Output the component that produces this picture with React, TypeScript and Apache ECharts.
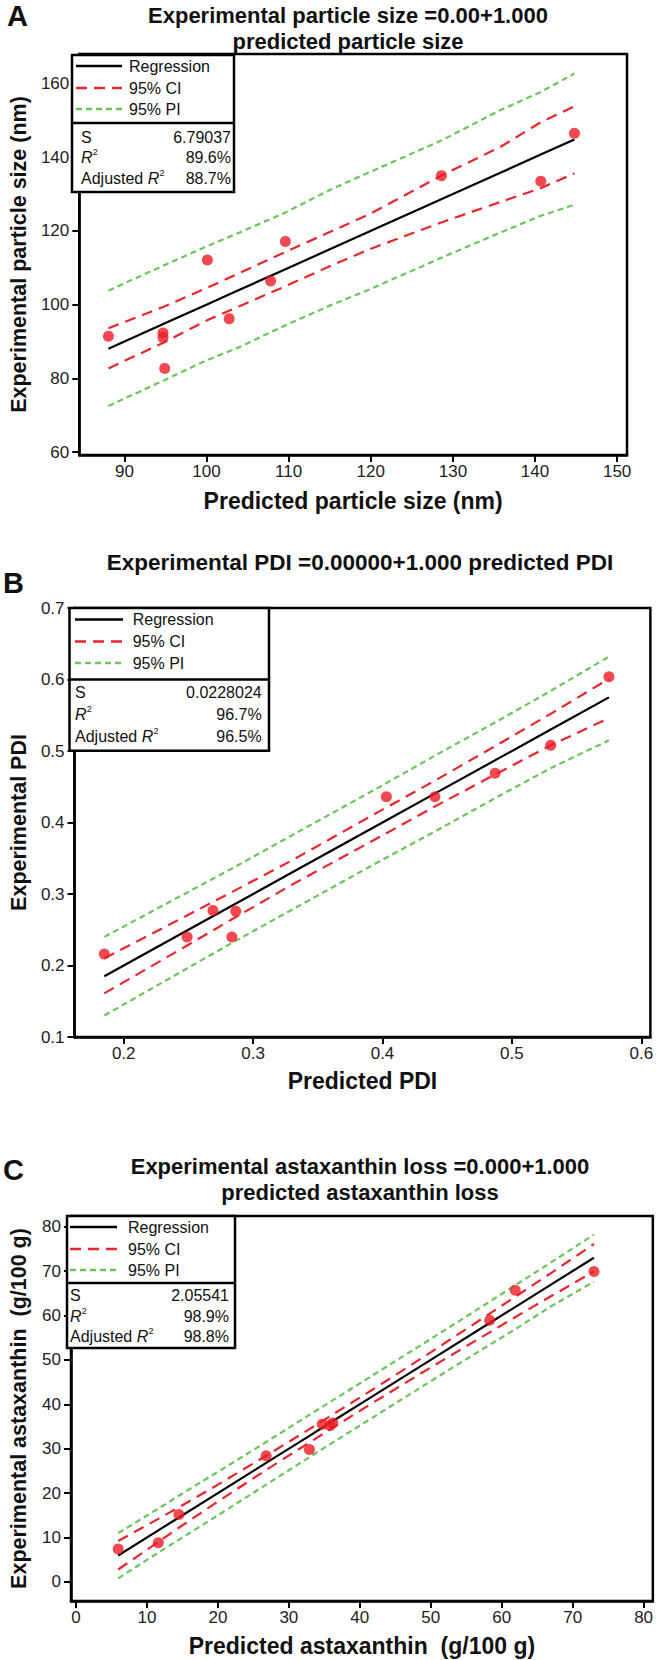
import React, { useEffect, useRef } from 'react';
import * as echarts from 'echarts';

const FONT = '"Liberation Sans", Arial, Helvetica, sans-serif';
const RED = '#e8262c';
const GREEN = '#6cc55c';
const DOT = '#ee1c25';

// ---------- Panel A : particle size ----------
const aPredicted = [88.05, 94.7, 94.7, 94.9, 100.1, 102.75, 107.8, 109.6, 128.6, 140.7, 144.8];
const aExperimental = [91.4, 92.3, 91.1, 82.7, 112.1, 96.2, 106.4, 117.1, 135.0, 133.5, 146.5];
const aFitX = [88.05, 94.86, 100.12, 103.94, 109.61, 115.28, 119.82, 128.58, 135.71, 140.7, 144.79];
const aRegression = [88.05, 94.86, 100.12, 103.94, 109.61, 115.28, 119.82, 128.58, 135.71, 140.7, 144.79];
const aCIUpper = [93.6, 99.5, 104.6, 108.5, 114.3, 120.0, 124.5, 135.0, 142.7, 149.5, 153.8];
const aCILower = [82.7, 89.8, 95.8, 99.5, 105.0, 110.7, 115.0, 122.3, 127.8, 131.6, 135.6];
const aPIUpper = [103.8, 110.7, 115.9, 119.5, 125.0, 131.4, 135.9, 144.5, 152.7, 157.7, 162.7];
const aPILower = [72.5, 79.5, 85.0, 88.4, 94.4, 100.0, 104.1, 112.7, 119.5, 124.1, 127.1];
const aXTicks = [90, 100, 110, 120, 130, 140, 150];
const aYTicks = [60, 80, 100, 120, 140, 160];
const aStats = ['6.79037', '89.6%', '88.7%'];

// ---------- Panel B : PDI ----------
const bPredicted = [0.185, 0.249, 0.269, 0.2866, 0.2836, 0.403, 0.4405, 0.487, 0.53, 0.575];
const bExperimental = [0.216, 0.24, 0.277, 0.276, 0.24, 0.436, 0.436, 0.469, 0.508, 0.604];
const bFitX = [0.185, 0.25, 0.285, 0.33, 0.4, 0.44, 0.49, 0.53, 0.575];
const bRegression = [0.185, 0.25, 0.285, 0.33, 0.4, 0.44, 0.49, 0.53, 0.575];
const bCIUpper = [0.21, 0.271, 0.304, 0.347, 0.418, 0.458, 0.51, 0.552, 0.601];
const bCILower = [0.161, 0.229, 0.266, 0.313, 0.382, 0.422, 0.47, 0.508, 0.546];
const bPIUpper = [0.24, 0.303, 0.337, 0.382, 0.452, 0.493, 0.543, 0.584, 0.632];
const bPILower = [0.13, 0.197, 0.233, 0.278, 0.348, 0.387, 0.437, 0.476, 0.515];
const bXTicks = [0.2, 0.3, 0.4, 0.5, 0.6];
const bYTicks = [0.1, 0.2, 0.3, 0.4, 0.5, 0.6, 0.7];
const bStats = ['0.0228024', '96.7%', '96.5%'];

// ---------- Panel C : astaxanthin ----------
const cPredicted = [5.95, 11.6, 14.5, 26.8, 32.9, 34.7, 35.8, 36.2, 58.3, 61.9, 73.0];
const cExperimental = [7.4, 8.8, 15.2, 28.4, 29.8, 35.5, 35.2, 35.8, 58.9, 65.7, 69.9];
const cFitX = [5.95, 11.6, 14.5, 20, 26.8, 32.9, 36, 42, 50, 58.3, 62, 67, 73];
const cRegression = [5.95, 11.6, 14.5, 20, 26.8, 32.9, 36, 42, 50, 58.3, 62, 67, 73];
const cCIUpper = [9.2, 14.2, 16.8, 21.9, 28.4, 34.4, 37.5, 43.5, 51.7, 60.4, 64.3, 69.6, 76.1];
const cCILower = [2.8, 9.0, 12.2, 18.1, 25.2, 31.4, 34.5, 40.5, 48.3, 56.2, 59.7, 64.4, 69.9];
const cPIUpper = [11.0, 16.5, 19.4, 24.8, 31.5, 37.6, 40.7, 46.7, 54.7, 63.1, 66.9, 72.0, 78.2];
const cPILower = [0.8, 6.6, 9.5, 15.0, 21.9, 28.1, 31.2, 37.2, 45.2, 53.4, 57.0, 62.1, 67.6];
const cXTicks = [0, 10, 20, 30, 40, 50, 60, 70, 80];
const cYTicks = [0, 10, 20, 30, 40, 50, 60, 70, 80];
const cStats = ['2.05541', '98.9%', '98.8%'];

const legendNames = ['Regression', '95% CI', '95% PI'];

const pairs = (xs: number[], ys: number[]) => xs.map((x, i) => [x, ys[i]]);

function txt(s: string, x: number, y: number, opts: any = {}) {
  const align = opts.align || 'left';
  const va = opts.va || 'middle';
  return {
    type: 'text',
    z: 102,
    silent: true,
    style: {
      text: s,
      x,
      y,
      fill: opts.fill || '#111',
      fontSize: opts.size || 16,
      fontWeight: opts.weight || 'normal',
      fontStyle: opts.italic ? 'italic' : 'normal',
      fontFamily: FONT,
      align,
      textAlign: align,
      verticalAlign: va,
      textVerticalAlign: va,
    },
  };
}

function legendBox(p: any, stats: string[]) {
  const els: any[] = [];
  els.push({
    type: 'rect', z: 100, silent: true,
    shape: { x: p.left, y: p.top, width: p.right - p.left, height: p.bottom - p.top },
    style: { fill: '#fff', stroke: '#000', lineWidth: 2.5 },
  });
  els.push({
    type: 'line', z: 101, silent: true,
    shape: { x1: p.left, y1: p.sep, x2: p.right, y2: p.sep },
    style: { stroke: '#000', lineWidth: 2.5 },
  });
  const sampleStyles = [
    { stroke: '#000', lineWidth: 2.5 },
    { stroke: RED, lineWidth: 2.5, lineDash: [11, 7] },
    { stroke: GREEN, lineWidth: 2.5, lineDash: [6, 4] },
  ];
  legendNames.forEach((name, i) => {
    els.push({
      type: 'line', z: 101, silent: true,
      shape: { x1: p.s1, y1: p.rows[i], x2: p.s2, y2: p.rows[i] },
      style: sampleStyles[i],
    });
    els.push(txt(name, p.tx, p.rows[i]));
  });
  els.push(txt('S', p.lx, p.rows[3]));
  els.push(txt(stats[0], p.vx, p.rows[3], { align: 'right' }));
  els.push(txt('R', p.lx, p.rows[4], { italic: true }));
  els.push(txt('2', p.lx + 11.8, p.rows[4] - 5, { size: 9 }));
  els.push(txt(stats[1], p.vx, p.rows[4], { align: 'right' }));
  els.push(txt('Adjusted ', p.lx, p.rows[5]));
  els.push(txt('R', p.lx + 66.7, p.rows[5], { italic: true }));
  els.push(txt('2', p.lx + 78.5, p.rows[5] - 5, { size: 9 }));
  els.push(txt(stats[2], p.vx, p.rows[5], { align: 'right' }));
  return els;
}

function xAxisDef(gi: number, min: number, max: number, ticks: number[], name: string, gap: number) {
  return {
    gridIndex: gi, type: 'value', min, max,
    name, nameLocation: 'middle', nameGap: gap,
    nameTextStyle: { fontFamily: FONT, fontSize: 23, fontWeight: 'bold', color: '#111' },
    axisLine: { show: true, onZero: false, lineStyle: { color: '#000', width: 2.5 } },
    axisTick: { show: true, inside: false, length: 7, customValues: ticks, lineStyle: { color: '#000', width: 2 } },
    axisLabel: { customValues: ticks, fontFamily: FONT, fontSize: 17, color: '#222', margin: 8 },
    splitLine: { show: false },
  };
}

function yAxisDef(gi: number, min: number, max: number, ticks: number[], name: string) {
  return {
    gridIndex: gi, type: 'value', min, max,
    name, nameLocation: 'middle', nameGap: 41, nameRotate: 90,
    nameTextStyle: { fontFamily: FONT, fontSize: 21.5, fontWeight: 'bold', color: '#111' },
    axisLine: { show: true, onZero: false, lineStyle: { color: '#000', width: 2.5 } },
    axisTick: { show: true, inside: false, length: 7, customValues: ticks, lineStyle: { color: '#000', width: 2 } },
    axisLabel: { customValues: ticks, fontFamily: FONT, fontSize: 17, color: '#222', margin: 10 },
    splitLine: { show: false },
  };
}

function panelSeries(gi: number, fx: number[], reg: number[], ciu: number[], cil: number[], piu: number[], pil: number[], px: number[], py: number[]) {
  const line = (data: number[][], style: any) => ({
    type: 'line', xAxisIndex: gi, yAxisIndex: gi, data, showSymbol: false, symbol: 'none',
    lineStyle: style, z: 3, silent: true,
  });
  return [
    line(pairs(fx, piu), { color: GREEN, width: 2.2, type: [6, 4] }),
    line(pairs(fx, pil), { color: GREEN, width: 2.2, type: [6, 4] }),
    line(pairs(fx, ciu), { color: RED, width: 2.2, type: [11, 7] }),
    line(pairs(fx, cil), { color: RED, width: 2.2, type: [11, 7] }),
    line(pairs(fx, reg), { color: '#000', width: 2.2 }),
    {
      type: 'scatter', xAxisIndex: gi, yAxisIndex: gi, data: pairs(px, py),
      symbolSize: 11, itemStyle: { color: DOT }, z: 5, silent: true,
    },
  ];
}

export default function App() {
  const ref = useRef<HTMLDivElement>(null);
  useEffect(() => {
    if (!ref.current) return;
    const chart = echarts.init(ref.current, undefined, { renderer: 'svg' });
    const gridStyle = { show: true, borderColor: '#000', borderWidth: 2.5, backgroundColor: 'transparent' };
    const option: any = {
      animation: false,
      backgroundColor: '#fff',
      grid: [
        { ...gridStyle, left: 69, top: 54, width: 558, height: 401 },
        { ...gridStyle, left: 67, top: 608, width: 586, height: 429 },
        { ...gridStyle, left: 67, top: 1216, width: 586, height: 385 },
      ],
      xAxis: [
        xAxisDef(0, 84.5, 151.2, aXTicks, 'Predicted particle size (nm)', 34),
        xAxisDef(1, 0.162, 0.607, bXTicks, 'Predicted PDI', 32),
        xAxisDef(2, -0.7, 81.3, cXTicks, 'Predicted astaxanthin  (g/100 g)', 33),
      ],
      yAxis: [
        yAxisDef(0, 59.2, 168, aYTicks, 'Experimental particle size (nm)'),
        yAxisDef(1, 0.1, 0.7, bYTicks, 'Experimental PDI'),
        yAxisDef(2, -4.3, 82.4, cYTicks, 'Experimental astaxanthin  (g/100 g)'),
      ],
      series: [
        ...panelSeries(0, aFitX, aRegression, aCIUpper, aCILower, aPIUpper, aPILower, aPredicted, aExperimental),
        ...panelSeries(1, bFitX, bRegression, bCIUpper, bCILower, bPIUpper, bPILower, bPredicted, bExperimental),
        ...panelSeries(2, cFitX, cRegression, cCIUpper, cCILower, cPIUpper, cPILower, cPredicted, cExperimental),
      ],
      graphic: [
        txt('A', 7, 16, { size: 29, weight: 'bold' }),
        txt('Experimental particle size =0.00+1.000', 348, 15, { size: 22, weight: 'bold', align: 'center' }),
        txt('predicted particle size', 348, 41, { size: 22, weight: 'bold', align: 'center' }),
        txt('B', 3, 583, { size: 29, weight: 'bold' }),
        txt('Experimental PDI =0.00000+1.000 predicted PDI', 360, 562, { size: 22.5, weight: 'bold', align: 'center' }),
        txt('C', 3, 1170, { size: 29, weight: 'bold' }),
        txt('Experimental astaxanthin loss =0.000+1.000', 360, 1166, { size: 22, weight: 'bold', align: 'center' }),
        txt('predicted astaxanthin loss', 360, 1192, { size: 22, weight: 'bold', align: 'center' }),
        ...legendBox({ left: 72, right: 234, top: 55, sep: 123, bottom: 192, rows: [66, 88, 109, 137, 157, 178], s1: 76, s2: 122, tx: 129, lx: 81, vx: 231 }, aStats),
        ...legendBox({ left: 69.5, right: 269, top: 608, sep: 679.5, bottom: 750.8, rows: [619.5, 641.5, 663, 692, 714, 736], s1: 75, s2: 123, tx: 132.7, lx: 75, vx: 261.7 }, bStats),
        ...legendBox({ left: 67, right: 235, top: 1216, sep: 1283, bottom: 1348, rows: [1227, 1249, 1270, 1295, 1316, 1336], s1: 70, s2: 117, tx: 128, lx: 70, vx: 229 }, cStats),
      ],
    };
    chart.setOption(option);
    return () => chart.dispose();
  }, []);
  return (
    <div
      ref={ref}
      style={{ position: 'absolute', left: 0, top: 0, width: 656, height: 1660, background: '#fff' }}
    />
  );
}
